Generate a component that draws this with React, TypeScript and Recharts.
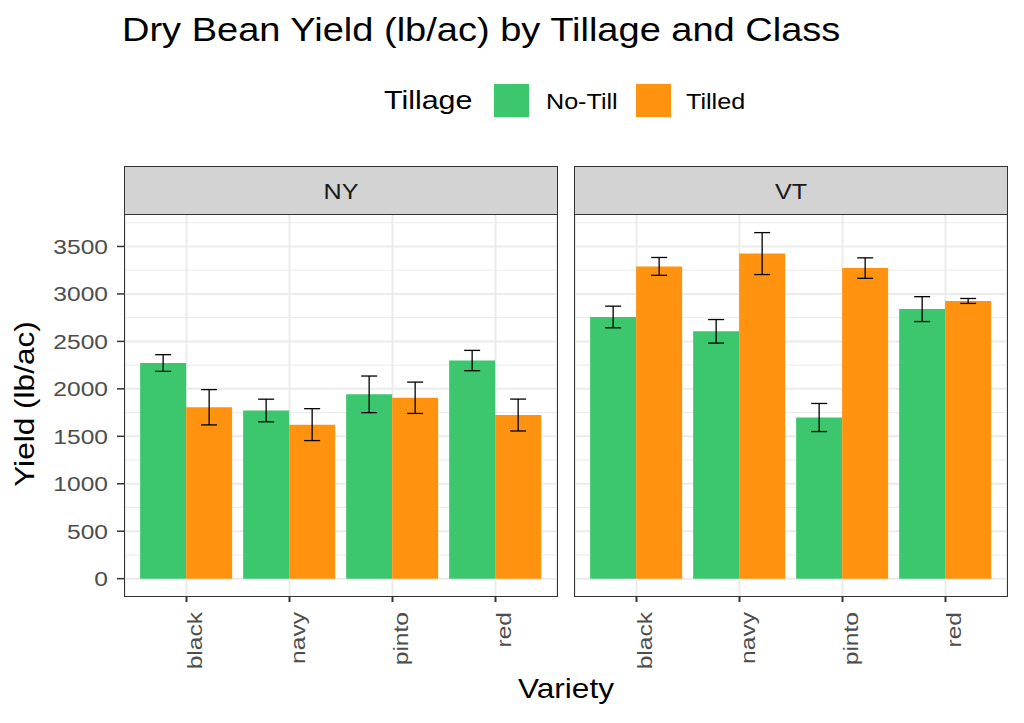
import React from 'react';
import { BarChart, Bar, XAxis, YAxis, CartesianGrid, ErrorBar } from 'recharts';

const varieties = ['black', 'navy', 'pinto', 'red'];

// NY panel
const nyNoTill = [2272, 1772, 1942, 2298];
const nyNoTillSe = [88, 119, 193, 107];
const nyTilled = [1806, 1623, 1906, 1724];
const nyTilledSe = [186, 168, 165, 168];

// VT panel
const vtNoTill = [2757, 2606, 1698, 2840];
const vtNoTillSe = [114, 124, 148, 131];
const vtTilled = [3290, 3425, 3272, 2926];
const vtTilledSe = [94, 221, 108, 26];

const majorTicks = [0, 500, 1000, 1500, 2000, 2500, 3000, 3500];
const minorTicks = [250, 750, 1250, 1750, 2250, 2750, 3250, 3750];

const GREEN = '#3CC66E';
const ORANGE = '#FF930F';
const FONT = '"Liberation Sans", Arial, Helvetica, sans-serif';
const DOMAIN: [number, number] = [-182.5, 3831.5];
// the source font is a little wider than Liberation Sans
const SX = 1.17;

function buildRows(noTill: number[], noTillSe: number[], tilled: number[], tilledSe: number[]) {
  return varieties.map((v, i) => ({
    variety: v,
    noTill: noTill[i],
    noTillSe: noTillSe[i],
    tilled: tilled[i],
    tilledSe: tilledSe[i],
  }));
}

const nyRows = buildRows(nyNoTill, nyNoTillSe, nyTilled, nyTilledSe);
const vtRows = buildRows(vtNoTill, vtNoTillSe, vtTilled, vtTilledSe);

function WText({
  x,
  y,
  size,
  anchor = 'start',
  rotate = 0,
  fill = '#000000',
  sx = SX,
  children,
}: {
  x: number;
  y: number;
  size: number;
  anchor?: 'start' | 'middle' | 'end';
  rotate?: number;
  fill?: string;
  sx?: number;
  children: React.ReactNode;
}) {
  return (
    <text
      transform={`translate(${x},${y}) rotate(${rotate}) scale(${sx},1)`}
      textAnchor={anchor}
      fontSize={size}
      fontFamily={FONT}
      fill={fill}
    >
      {children}
    </text>
  );
}

const XTick = (props: any) => {
  const { x, y, payload } = props;
  return (
    <WText x={x + 15} y={y} size={21} anchor="end" rotate={-90} fill="#4D4D4D">
      {payload.value}
    </WText>
  );
};

const YTick = (props: any) => {
  const { x, y, payload } = props;
  return (
    <WText x={x} y={y + 7.5} size={21} anchor="end" fill="#4D4D4D">
      {payload.value}
    </WText>
  );
};

function Panel({ rows, showY, width, marginRight }: { rows: any[]; showY: boolean; width: number; marginRight: number }) {
  return (
    <BarChart
      width={width}
      height={481}
      data={rows}
      margin={{ top: 0, right: marginRight, bottom: 0, left: 0 }}
      barCategoryGap="5%"
      barGap={0}
    >
      <CartesianGrid horizontalValues={minorTicks} vertical={false} stroke="#EBEBEB" strokeWidth={1} />
      <CartesianGrid horizontalValues={majorTicks} stroke="#EBEBEB" strokeWidth={2} />
      <XAxis
        dataKey="variety"
        type="category"
        padding={{ left: 10, right: 10 }}
        axisLine={false}
        tickLine={{ stroke: '#333333', strokeWidth: 2 }}
        tickSize={6}
        tickMargin={10}
        height={100}
        tick={<XTick />}
        interval={0}
      />
      <YAxis
        hide={!showY}
        width={showY ? 125 : 0}
        domain={DOMAIN}
        allowDataOverflow
        ticks={majorTicks}
        type="number"
        axisLine={false}
        tickLine={{ stroke: '#333333', strokeWidth: 1.5 }}
        tickSize={8}
        tickMargin={9}
        tick={<YTick />}
        interval={0}
      />
      <Bar dataKey="noTill" fill={GREEN} isAnimationActive={false}>
        <ErrorBar dataKey="noTillSe" width={8} stroke="#000000" strokeWidth={1.3} direction="y" />
      </Bar>
      <Bar dataKey="tilled" fill={ORANGE} isAnimationActive={false}>
        <ErrorBar dataKey="tilledSe" width={8} stroke="#000000" strokeWidth={1.3} direction="y" />
      </Bar>
    </BarChart>
  );
}

const stripStyle: React.CSSProperties = {
  position: 'absolute',
  top: 166,
  height: 47,
  background: '#D3D3D3',
  border: '1px solid #333333',
};

const frameStyle: React.CSSProperties = {
  position: 'absolute',
  top: 214,
  height: 381,
  border: '1px solid #333333',
  pointerEvents: 'none',
};

export default function App() {
  return (
    <div style={{ position: 'absolute', left: 0, top: 0, width: 1024, height: 723, background: '#FFFFFF', overflow: 'hidden' }}>
      <div style={{ position: 'absolute', left: 0, top: 215 }}>
        <Panel rows={nyRows} showY width={560} marginRight={3} />
      </div>
      <div style={{ position: 'absolute', left: 575, top: 215 }}>
        <Panel rows={vtRows} showY={false} width={433} marginRight={1} />
      </div>

      <div style={{ ...stripStyle, left: 124, width: 432 }} />
      <div style={{ ...stripStyle, left: 574, width: 432 }} />
      <div style={{ ...frameStyle, left: 124, width: 432 }} />
      <div style={{ ...frameStyle, left: 574, width: 432 }} />

      <svg width={1024} height={723} style={{ position: 'absolute', left: 0, top: 0, pointerEvents: 'none' }}>
        <WText x={122} y={41} size={32.5}>
          Dry Bean Yield (lb/ac) by Tillage and Class
        </WText>
        <WText x={384} y={109} size={26}>
          Tillage
        </WText>
        <rect x={494} y={84} width={35} height={33} fill={GREEN} />
        <WText x={546} y={109} size={21.5}>
          No-Till
        </WText>
        <rect x={636} y={84} width={35} height={33} fill={ORANGE} />
        <WText x={686} y={109} size={21.5}>
          Tilled
        </WText>
        <WText x={341} y={199} size={21.5} anchor="middle" fill="#1A1A1A">
          NY
        </WText>
        <WText x={791} y={199} size={21.5} anchor="middle" fill="#1A1A1A">
          VT
        </WText>
        <WText x={34} y={404} size={27} anchor="middle" rotate={-90}>
          Yield (lb/ac)
        </WText>
        <WText x={566} y={698} size={27} anchor="middle">
          Variety
        </WText>
      </svg>
    </div>
  );
}
